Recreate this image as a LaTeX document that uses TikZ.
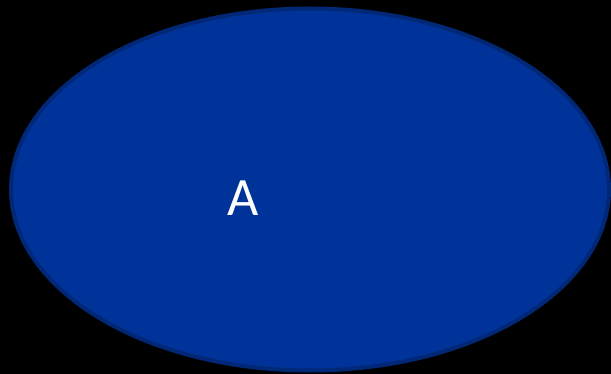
\documentclass[tikz,border=0pt]{standalone}
\usepackage{fontspec}
\setmainfont{Carlito}
\usepackage{xcolor}
\usepackage{tikz}
\usetikzlibrary{shapes.geometric,positioning}

\definecolor{setblue}{RGB}{0,51,153}
\definecolor{setedge}{RGB}{0,40,118}

\begin{document}
\begin{tikzpicture}[x=1pt,y=-1pt,
  setshape/.style={ellipse,draw=setedge,fill=setblue,line width=4pt,
    minimum width=598pt,minimum height=362pt,inner sep=0pt},
  setlabel/.style={text=white,font=\fontsize{54}{54}\selectfont,inner sep=0pt}]
  \useasboundingbox (0,0) rectangle (611,374);
  \fill[black] (0,0) rectangle (611,374);
  % the set
  \node[setshape] (setA) at (310,189.5) {};
  \node[setlabel,anchor=base] (labelA) at (243,216) {A};
\end{tikzpicture}
\end{document}
